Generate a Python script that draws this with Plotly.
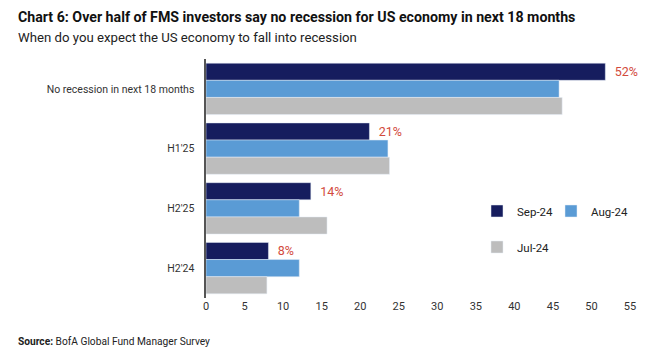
import plotly.graph_objects as go

categories = ["No recession in next 18 months", "H1'25", "H2'25", "H2'24"]
sep_24 = [51.8, 21.2, 13.6, 8.1]
aug_24 = [45.8, 23.6, 12.1, 12.1]
jul_24 = [46.2, 23.8, 15.7, 7.9]
sep_labels = ["52%", "21%", "14%", "8%"]
x_ticks = [0, 5, 10, 15, 20, 25, 30, 35, 40, 45, 50, 55]

FONT = "Roboto"

def f(size, color, **kw):
    return dict(family=FONT, size=size, color=color, **kw)

L, R, T, B = 206, 38, 59, 60
W, H = 668, 358
PW, PH = W - L - R, H - T - B

def px_x(px):
    return (px - L) / PW

def px_y(py):
    return (H - B - py) / PH

fig = go.Figure()
fig.add_trace(go.Bar(
    y=categories, x=sep_24, name="Sep-24", orientation="h",
    marker=dict(color="#161d5e"),
    text=["\u2002" + s for s in sep_labels], textposition="outside",
    textfont=f(12.5, "#d24a3c"),
    constraintext="none", cliponaxis=False, legend="legend",
))
fig.add_trace(go.Bar(
    y=categories, x=aug_24, name="Aug-24", orientation="h",
    marker=dict(color="#5a9bd5"), legend="legend2",
))
fig.add_trace(go.Bar(
    y=categories, x=jul_24, name="Jul-24", orientation="h",
    marker=dict(color="#bdbdbd"), legend="legend3",
))

def leg(xpx, ypx):
    return dict(orientation="h", x=px_x(xpx), y=px_y(ypx), xanchor="left", yanchor="middle",
                font=f(11.5, "#222"), itemwidth=30, bgcolor="rgba(0,0,0,0)")

fig.update_layout(
    width=W, height=H,
    margin=dict(l=L, r=R, t=T, b=B),
    paper_bgcolor="white", plot_bgcolor="white",
    barmode="group", bargap=0.14, bargroupgap=0,
    font=f(11, "#333333"),
    showlegend=True,
    legend=leg(477, 211),
    legend2=leg(551, 211),
    legend3=leg(477, 247),
    xaxis=dict(range=[0, 55], tickvals=x_ticks, showgrid=False, zeroline=False,
               showline=False, ticks="", tickfont=f(11, "#333"), automargin=False),
    yaxis=dict(autorange="reversed", showgrid=False, showline=True, linecolor="#555",
               linewidth=1.5, ticks="", tickfont=f(10.5, "#333"), ticksuffix="   ",
               automargin=False),
)

fig.add_annotation(text="<b>Chart 6: Over half of FMS investors say no recession for US economy in next 18 months</b>",
                   xref="paper", yref="paper", x=px_x(16), y=px_y(17),
                   xanchor="left", yanchor="middle", showarrow=False,
                   font=f(14.2, "#111"))
fig.add_annotation(text="When do you expect the US economy to fall into recession",
                   xref="paper", yref="paper", x=px_x(16), y=px_y(37),
                   xanchor="left", yanchor="middle", showarrow=False,
                   font=f(13.2, "#222"))
fig.add_annotation(text="<b>Source:</b> BofA Global Fund Manager Survey",
                   xref="paper", yref="paper", x=px_x(16), y=px_y(341),
                   xanchor="left", yanchor="middle", showarrow=False,
                   font=f(10.2, "#222"))

fig.write_html("out.html", config={"displayModeBar": False},
               post_script="document.body.style.margin='0px';")
